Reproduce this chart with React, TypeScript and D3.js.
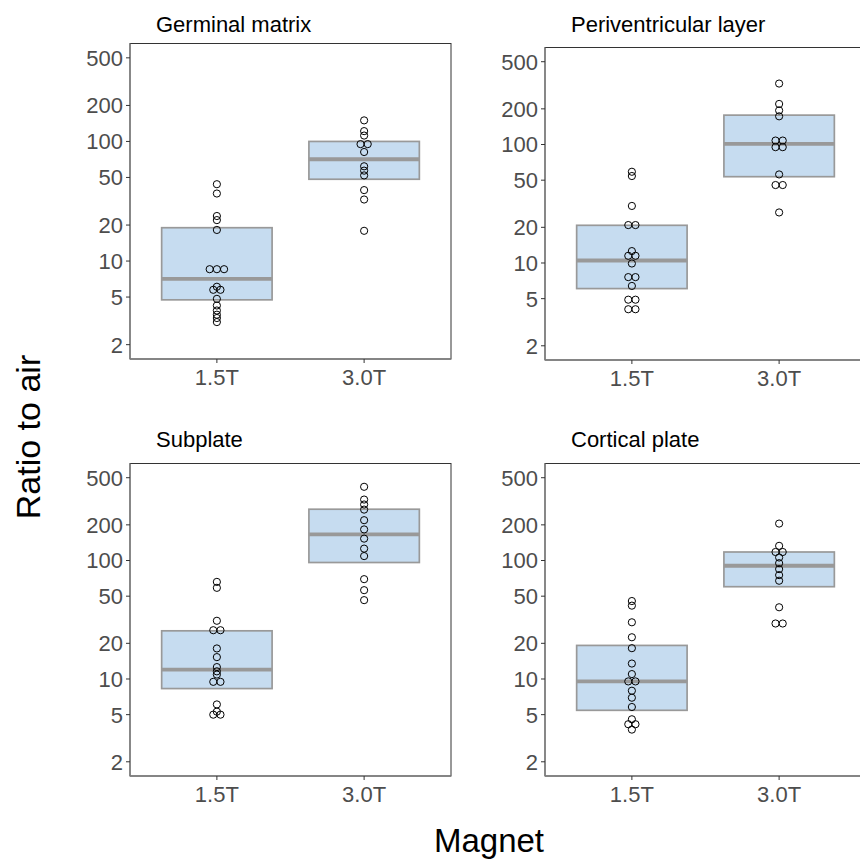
import React from "react";
import * as d3 from "d3";

const panelTitles = ["Germinal matrix", "Periventricular layer", "Subplate", "Cortical plate"];
const magnets = ["1.5T", "3.0T"];
const yTicks = [2, 5, 10, 20, 50, 100, 200, 500];

// Points per region and magnet
const gm15 = [43.9, 36.7, 23.8, 22.0, 18.2, 8.55, 8.55, 8.55, 6.1, 5.75, 5.75, 4.83, 4.25, 3.86, 3.56, 3.34, 3.09];
const gm30 = [150, 122, 112, 95, 95, 81.6, 62, 57, 52, 39.2, 32.7, 17.9];
const pv15 = [58.9, 54.2, 30.3, 20.9, 20.9, 12.6, 11.5, 11.5, 9.9, 7.6, 7.6, 6.4, 4.9, 4.9, 4.07, 4.07];
const pv30 = [327, 220, 194, 173, 108, 108, 95, 95, 55.9, 45.5, 45.5, 26.7];
const sp15 = [66, 58.8, 31, 25.8, 25.8, 18.1, 15.3, 12.6, 11.6, 10.9, 9.46, 9.46, 6.1, 5.3, 5.0, 5.0];
const sp30 = [419, 327, 297, 269, 219, 183, 153, 126, 109, 69.6, 56.2, 46.3];
const cp15 = [45.5, 41.6, 30.1, 22.5, 18.2, 13.5, 11.0, 9.54, 9.54, 7.96, 6.95, 5.8, 4.57, 4.15, 4.15, 3.74];
const cp30 = [205, 133, 118, 118, 106, 95, 84.6, 75.3, 67.5, 40.3, 29.4, 29.4];

// Box statistics: [1.5T, 3.0T] per region
const boxLow = [[4.74, 48.3], [6.08, 53.5], [8.3, 96.2], [5.44, 60.1]];
const boxMid = [[7.1, 71], [10.5, 101.4], [12.0, 166], [9.54, 90.3]];
const boxHigh = [[19.0, 100], [20.8, 177], [25.5, 271], [19.2, 118]];

const pointSets = [[gm15, gm30], [pv15, pv30], [sp15, sp30], [cp15, cp30]];

// layout frames
const frames = [
  { left: 130, top: 43.5, bottom: 359, titleY: 31.5 },
  { left: 545, top: 47.5, bottom: 360, titleY: 31.5 },
  { left: 130, top: 463.5, bottom: 776, titleY: 446.5 },
  { left: 545, top: 463.5, bottom: 776, titleY: 446.5 },
];
const PW = 321;
const EXP = Math.pow(10, 0.05 * Math.log10(500 / 2));

function dodge(values: number[], spacing: number) {
  const groups = d3.group(values.map((v, i) => ({ v, i })), (d) => d.v);
  const out: { v: number; off: number }[] = [];
  groups.forEach((arr) => {
    const n = arr.length;
    arr.forEach((d, k) => out.push({ v: d.v, off: (k - (n - 1) / 2) * spacing }));
  });
  return out;
}

function Panel({ idx }: { idx: number }) {
  const f = frames[idx];
  const x = d3.scalePoint<string>().domain(magnets).range([f.left, f.left + PW]).padding(0.59);
  const y = d3.scaleLog().domain([2 / EXP, 500 * EXP]).range([f.bottom, f.top]);
  const step = x.step();
  const bw = step * 0.75;
  const tickColor = "#333333";
  const labelColor = "#4d4d4d";
  return (
    <g>
      <text x={f.left + 26} y={f.titleY} fontSize={22} fill="#000">{panelTitles[idx]}</text>
      <rect x={f.left} y={f.top} width={PW} height={f.bottom - f.top} fill="none" stroke="#333" strokeWidth={1} />
      {magnets.map((m, j) => {
        const cx = x(m)!;
        const pts = dodge(pointSets[idx][j], 7.2);
        return (
          <g key={m}>
            <rect x={cx - bw / 2} y={y(boxHigh[idx][j])} width={bw}
              height={y(boxLow[idx][j]) - y(boxHigh[idx][j])}
              fill="#c6dcf0" stroke="#999999" strokeWidth={1.7} />
            <line x1={cx - bw / 2} x2={cx + bw / 2} y1={y(boxMid[idx][j])} y2={y(boxMid[idx][j])}
              stroke="#999999" strokeWidth={3.8} />
            {pts.map((p, k) => (
              <circle key={k} cx={cx + p.off} cy={y(p.v)} r={3.6} fill="none" stroke="#000" strokeWidth={1} />
            ))}
          </g>
        );
      })}
      <line x1={f.left} x2={f.left} y1={f.top} y2={f.bottom} stroke="#7f7f7f" strokeWidth={1.3} />
      <line x1={f.left} x2={f.left + PW} y1={f.bottom} y2={f.bottom} stroke="#7f7f7f" strokeWidth={1.3} />
      {yTicks.map((t) => (
        <g key={t}>
          <line x1={f.left - 4} x2={f.left} y1={y(t)} y2={y(t)} stroke={tickColor} strokeWidth={1} />
          <text x={f.left - 7} y={y(t)} dy="0.36em" textAnchor="end" fontSize={22} fill={labelColor}>{t}</text>
        </g>
      ))}
      {magnets.map((m) => (
        <g key={m}>
          <line x1={x(m)} x2={x(m)} y1={f.bottom} y2={f.bottom + 4} stroke={tickColor} strokeWidth={1} />
          <text x={x(m)} y={f.bottom + 25.5} textAnchor="middle" fontSize={22} fill={labelColor}>{m}</text>
        </g>
      ))}
    </g>
  );
}

export default function App() {
  return (
    <svg width={860} height={861} style={{ position: "absolute", left: 0, top: 0, background: "#fff" }}
      fontFamily="'Liberation Sans', Arial, sans-serif">
      <rect width={860} height={861} fill="#fff" />
      {panelTitles.map((_, i) => <Panel key={i} idx={i} />)}
      <text transform="translate(40,437) rotate(-90)" textAnchor="middle" fontSize={34} fill="#000">Ratio to air</text>
      <text x={489} y={852} textAnchor="middle" fontSize={33} fill="#000">Magnet</text>
    </svg>
  );
}
